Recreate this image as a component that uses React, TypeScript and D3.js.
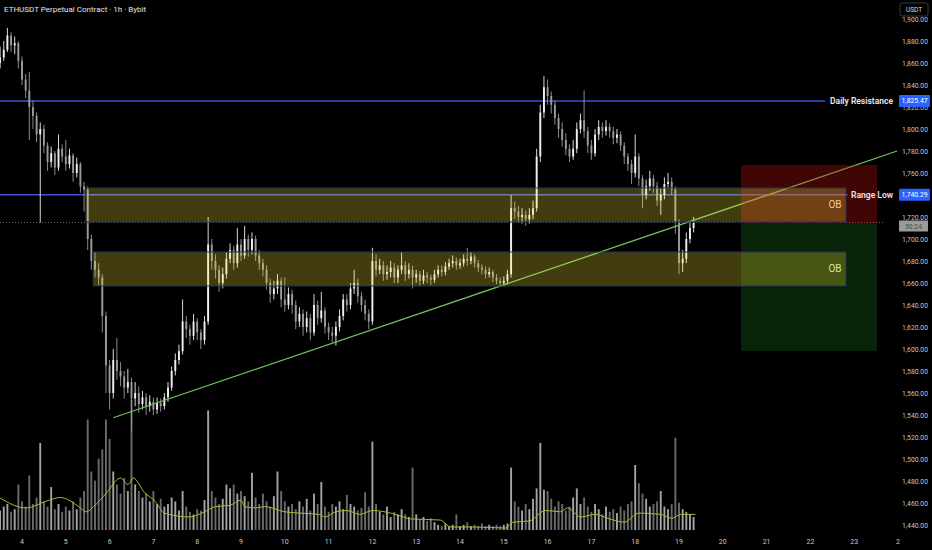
import React from 'react';
import { scaleLinear, line, curveMonotoneX, range } from 'd3';

// 2h candles, hours counted from day 4 00:00
const startHour = -12;
const barHours = 2;
const firstOpen = 1860;

const closes = [
    1865, 1872, 1885, 1876, 1878, 1862, 1845, 1835, 1820, 1812,
    1795, 1800, 1785, 1770, 1778, 1765, 1782, 1775, 1768, 1776,
    1760, 1768, 1748, 1745, 1700, 1680, 1672, 1665, 1630, 1585,
    1560, 1590, 1580, 1575, 1565, 1570, 1555, 1560, 1550, 1556,
    1548, 1552, 1545, 1551, 1548, 1556, 1565, 1580, 1590, 1598,
    1625, 1618, 1612, 1625, 1615, 1608, 1625, 1695, 1680, 1672,
    1660, 1668, 1682, 1690, 1678, 1695, 1685, 1700, 1690, 1700,
    1685, 1678, 1672, 1660, 1650, 1655, 1662, 1645, 1640, 1650,
    1640, 1625, 1632, 1620, 1628, 1615, 1640, 1628, 1635, 1620,
    1615, 1612, 1620, 1630, 1645, 1640, 1655, 1660, 1648, 1640,
    1632, 1625, 1680, 1672, 1676, 1668, 1670, 1674, 1665, 1672,
    1676, 1668, 1672, 1665, 1668, 1662, 1667, 1665, 1663, 1668,
    1672, 1670, 1675, 1678, 1680, 1676, 1678, 1682, 1680, 1684,
    1678, 1674, 1672, 1668, 1670, 1665, 1662, 1660, 1662, 1668,
    1728, 1725, 1720, 1722, 1718, 1722, 1728, 1775, 1815, 1838,
    1830, 1822, 1810, 1800, 1790, 1782, 1775, 1782, 1800, 1808,
    1798, 1785, 1778, 1795, 1802, 1798, 1802, 1798, 1792, 1795,
    1785, 1775, 1768, 1760, 1775, 1755, 1740, 1748, 1755, 1748,
    1735, 1740, 1750, 1752, 1745, 1715, 1678, 1682, 1700, 1710,
    1715
];
const highs = [
    1875, 1880, 1892, 1888, 1884, 1880, 1866, 1850, 1852, 1826,
    1815, 1806, 1804, 1788, 1784, 1780, 1795, 1786, 1790, 1782,
    1778, 1774, 1770, 1752, 1748, 1704, 1688, 1678, 1668, 1634,
    1590, 1600, 1610, 1588, 1580, 1582, 1574, 1570, 1566, 1562,
    1560, 1558, 1556, 1556, 1555, 1560, 1570, 1584, 1596, 1604,
    1645, 1630, 1622, 1632, 1628, 1618, 1630, 1720, 1700, 1686,
    1676, 1674, 1688, 1696, 1694, 1710, 1700, 1712, 1704, 1706,
    1703, 1690, 1682, 1676, 1664, 1662, 1668, 1665, 1665, 1656,
    1654, 1644, 1638, 1636, 1634, 1632, 1650, 1644, 1652, 1638,
    1624, 1620, 1625, 1636, 1650, 1650, 1660, 1672, 1664, 1652,
    1645, 1636, 1692, 1686, 1682, 1680, 1676, 1680, 1678, 1676,
    1688, 1680, 1678, 1676, 1672, 1671, 1672, 1670, 1668, 1672,
    1676, 1676, 1679, 1682, 1685, 1683, 1682, 1686, 1692, 1688,
    1686, 1681, 1677, 1675, 1674, 1672, 1668, 1665, 1666, 1672,
    1740, 1734, 1730, 1728, 1726, 1728, 1735, 1782, 1822, 1848,
    1845, 1834, 1826, 1814, 1806, 1796, 1786, 1790, 1806, 1814,
    1835, 1802, 1790, 1800, 1808, 1806, 1808, 1805, 1802, 1800,
    1798, 1788, 1778, 1772, 1795, 1778, 1758, 1754, 1762, 1758,
    1752, 1746, 1756, 1760, 1756, 1748, 1718, 1690, 1706, 1715,
    1720
];
const lows = [
    1855, 1862, 1870, 1870, 1868, 1855, 1840, 1828, 1790, 1800,
    1788, 1715, 1778, 1762, 1765, 1758, 1762, 1770, 1762, 1764,
    1752, 1756, 1742, 1725, 1690, 1672, 1665, 1658, 1615, 1560,
    1545, 1555, 1572, 1566, 1555, 1560, 1525, 1548, 1542, 1545,
    1540, 1543, 1540, 1541, 1543, 1545, 1552, 1562, 1576, 1586,
    1595, 1610, 1604, 1608, 1608, 1600, 1604, 1622, 1672, 1664,
    1652, 1655, 1664, 1678, 1672, 1674, 1680, 1682, 1684, 1686,
    1680, 1672, 1666, 1654, 1642, 1645, 1650, 1638, 1634, 1636,
    1632, 1618, 1620, 1612, 1615, 1608, 1612, 1622, 1624, 1614,
    1608, 1606, 1603, 1616, 1626, 1634, 1636, 1650, 1642, 1634,
    1626, 1618, 1622, 1666, 1668, 1662, 1663, 1665, 1660, 1660,
    1668, 1662, 1664, 1655, 1660, 1657, 1659, 1660, 1658, 1660,
    1665, 1666, 1667, 1672, 1674, 1672, 1673, 1675, 1676, 1677,
    1674, 1670, 1668, 1664, 1665, 1661, 1659, 1657, 1657, 1659,
    1665, 1718, 1715, 1714, 1712, 1714, 1718, 1725, 1770, 1810,
    1822, 1814, 1804, 1792, 1784, 1776, 1770, 1772, 1778, 1796,
    1792, 1778, 1772, 1775, 1790, 1792, 1794, 1792, 1786, 1787,
    1780, 1768, 1762, 1750, 1756, 1748, 1728, 1736, 1744, 1742,
    1730, 1722, 1736, 1746, 1740, 1705, 1668, 1670, 1678, 1696,
    1706
];
const volumes = [
    15, 18, 20, 14, 16, 35, 22, 18, 42, 20,
    25, 67, 22, 18, 33, 16, 20, 14, 18, 15,
    22, 16, 25, 30, 85, 45, 38, 55, 62, 85,
    70, 45, 35, 28, 40, 30, 100, 35, 30, 25,
    28, 22, 30, 20, 24, 18, 20, 25, 22, 15,
    30, 18, 14, 12, 16, 15, 23, 92, 30, 25,
    20, 24, 35, 32, 35, 28, 30, 26, 22, 44,
    25, 20, 28, 22, 18, 26, 45, 30, 22, 18,
    20, 16, 22, 18, 24, 15, 28, 20, 37, 18,
    14, 20, 18, 22, 16, 27, 20, 18, 15, 17,
    29, 18, 68, 20, 14, 12, 18, 10, 14, 12,
    16, 12, 10, 48, 12, 8, 10, 7, 9, 6,
    4, 3, 5, 3, 4, 12, 3, 4, 6, 3,
    4, 3, 5, 3, 4, 3, 4, 3, 4, 5,
    48, 22, 18, 15, 20, 16, 24, 32, 67, 31,
    30, 24, 18, 22, 20, 15, 18, 25, 32, 20,
    25, 18, 14, 20, 16, 12, 18, 14, 16, 13,
    18, 15, 20, 22, 50, 36, 28, 24, 18, 20,
    22, 30, 18, 16, 20, 71, 21, 16, 14, 12,
    10
];

// volume moving average
const maHours = [-12, 2, 15, 21, 32, 35, 40, 46, 54, 58, 61, 67, 73, 78, 92, 100, 106, 114, 120, 122,
    128, 133, 144, 152, 163, 166, 172, 178, 185, 192, 202, 209, 213, 229, 235, 248, 265, 269, 278, 287,
    295, 299, 306, 314, 322, 330, 338, 350, 356, 361, 369];
const maValues = [24.6, 17, 23, 25, 17, 14, 19, 28, 40, 35, 40, 29, 22, 13, 10, 14, 18, 19, 23, 18,
    17, 18, 14, 13, 12, 10, 14, 15, 12, 15, 13, 10, 8.5, 7.7, 2.3, 2.3, 1.5, 6, 7, 15,
    14, 17, 10, 12, 8.5, 6, 13, 12, 9, 12, 12];

const dayLabels = ['4', '5', '6', '7', '8', '9', '10', '11', '12', '13', '14', '15', '16', '17', '18', '19', '20', '21', '22', '23', '2'];
const priceTicks = range(1440, 1901, 20);

const dailyResistance = { price: 1825.47, endHour: 440, label: 'Daily Resistance' };
const rangeLow = { price: 1740.29, endHour: 452.5, label: 'Range Low' };
const obZones = [
    { from: 35, to: 451.5, top: 1746.4, bottom: 1715.5, textColor: '#f6c89a' },
    { from: 39, to: 451.5, top: 1688.2, bottom: 1657.3, textColor: '#cfe8a6' }
];
const trade = { from: 394, to: 468.5, stop: 1767.3, entry: 1714.5, target: 1598.2 };
const trend = { h1: 50, p1: 1537.5, h2: 479.5, p2: 1780 };
const lastPrice = 1715;

const W = 932, H = 550, plotRight = 885;
const font = 'Roboto, "Liberation Sans", sans-serif';

const App = () => {
    const x = scaleLinear().domain([0, 480]).range([22, 898]);
    const y = scaleLinear().domain([1440, 1880]).range([525, 41]);
    const v = scaleLinear().domain([0, 100]).range([530, 400]);

    const step = x(barHours) - x(0);
    const bodyW = step * 0.52;

    const candles = closes.map((c, i) => {
        let o = i == 0 ? firstOpen : closes[i - 1];
        let t = startHour + i * barHours;
        return { t, o, c, h: highs[i], l: lows[i], vol: volumes[i], up: c >= o };
    });

    const maPath = line<number>().x((d, i) => x(maHours[i])).y(d => v(d)).curve(curveMonotoneX)(maValues);

    return (
        <svg width={W} height={H} style={{ position: 'absolute', left: 0, top: 0, fontFamily: font }}>
            <rect x={0} y={0} width={W} height={H} fill="#000" />

            {/* volume */}
            <g>
                {candles.map((d, i) =>
                    <rect key={i} x={x(d.t) - bodyW / 2} y={v(d.vol)} width={bodyW} height={v(0) - v(d.vol)} fill={d.up ? '#a4a4a4' : '#6a6a6a'} />
                )}
            </g>
            <path d={maPath} fill="none" stroke="#b3b338" strokeWidth={1} />

            {/* horizontal levels */}
            <line x1={0} x2={x(dailyResistance.endHour)} y1={y(dailyResistance.price)} y2={y(dailyResistance.price)} stroke="#3b52d6" strokeWidth={1.5} />
            <line x1={0} x2={x(rangeLow.endHour)} y1={y(rangeLow.price)} y2={y(rangeLow.price)} stroke="#3b52d6" strokeWidth={1.5} />

            {/* candles */}
            <g>
                {candles.map((d, i) => {
                    let col = d.up ? '#efefef' : '#9a9a9a';
                    let top = y(Math.max(d.o, d.c));
                    let bh = Math.max(1, y(Math.min(d.o, d.c)) - top);
                    return (
                        <g key={i}>
                            <line x1={x(d.t)} x2={x(d.t)} y1={y(d.h)} y2={y(d.l)} stroke={col} strokeWidth={0.9} />
                            <rect x={x(d.t) - bodyW / 2} y={top} width={bodyW} height={bh} fill={col} />
                        </g>
                    )
                })}
            </g>

            {/* current price */}
            <line x1={0} x2={plotRight} y1={y(lastPrice)} y2={y(lastPrice)} stroke="#6a6a6a" strokeWidth={1} strokeDasharray="1,2" />

            {/* trend line */}
            <line x1={x(trend.h1)} y1={y(trend.p1)} x2={x(trend.h2)} y2={y(trend.p2)} stroke="#6cc35a" strokeWidth={1.3} />

            {/* short position */}
            <rect x={x(trade.from)} y={y(trade.stop)} width={x(trade.to) - x(trade.from)} height={y(trade.entry) - y(trade.stop)} fill="rgba(200,20,20,0.32)" />
            <rect x={x(trade.from)} y={y(trade.entry)} width={x(trade.to) - x(trade.from)} height={y(trade.target) - y(trade.entry)} fill="rgba(40,160,40,0.22)" />

            {/* order blocks */}
            {obZones.map((z, i) =>
                <g key={i}>
                    <rect x={x(z.from)} y={y(z.top)} width={x(z.to) - x(z.from)} height={y(z.bottom) - y(z.top)} fill="rgba(255,235,59,0.26)" stroke="#24345f" strokeWidth={1} />
                    <text x={x(z.to) - 11} y={(y(z.top) + y(z.bottom)) / 2 + 3.5} fill={z.textColor} fontSize={10} textAnchor="middle">OB</text>
                </g>
            )}

            {/* level labels */}
            <text x={893} y={y(dailyResistance.price) + 3} fill="#ececec" fontSize={8.5} fontWeight={600} textAnchor="end">{dailyResistance.label}</text>
            <text x={893} y={y(rangeLow.price) + 3} fill="#f0e4e4" fontSize={8.5} fontWeight={600} textAnchor="end">{rangeLow.label}</text>

            {/* price axis */}
            <g>
                {priceTicks.map(p =>
                    <text key={p} x={928} y={y(p) + 2.5} fill="#c4c4c4" fontSize={6.8} textAnchor="end">{p.toLocaleString('en-US', { minimumFractionDigits: 2 })}</text>
                )}
            </g>
            {[dailyResistance, rangeLow].map((lv, i) =>
                <g key={i}>
                    <rect x={899} y={y(lv.price) - 6} width={31} height={12} rx={1} fill="#2962ff" />
                    <text x={914.5} y={y(lv.price) + 2.5} fill="#fff" fontSize={6.8} textAnchor="middle">{lv.price.toLocaleString('en-US', { minimumFractionDigits: 2 })}</text>
                </g>
            )}
            <rect x={899} y={y(lastPrice) - 2} width={29} height={11} fill="#9b9b9b" />
            <text x={913.5} y={y(lastPrice) + 6} fill="#4a4a4a" fontSize={6.8} textAnchor="middle">50:24</text>

            <rect x={900} y={3} width={28} height={13} rx={2} fill="#000" stroke="#3a3a3a" />
            <text x={914} y={12.3} fill="#dcdcdc" fontSize={6.5} textAnchor="middle">USDT</text>

            {/* time axis */}
            <g>
                {dayLabels.map((d, i) =>
                    <text key={i} x={x(i * 24)} y={544} fill="#c8c8c8" fontSize={7} textAnchor="middle">{d}</text>
                )}
            </g>

            <text x={4} y={12} fill="#e6e6e6" fontSize={8}>ETHUSDT Perpetual Contract · 1h · Bybit</text>
        </svg>
    )
}

export default App;
